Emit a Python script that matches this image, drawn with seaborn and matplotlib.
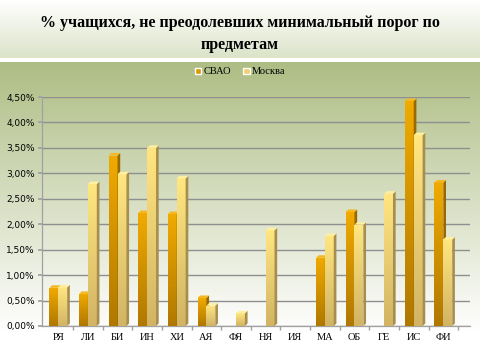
import numpy as np
import pandas as pd
import seaborn as sns
import matplotlib
matplotlib.use('Agg')
from matplotlib import pyplot as plt
from matplotlib.colors import LinearSegmentedColormap, to_rgb
from matplotlib.patches import Polygon
from matplotlib.ticker import FuncFormatter, MultipleLocator

# данные (в процентах)
subjects = ['РЯ', 'ЛИ', 'БИ', 'ИН', 'ХИ', 'АЯ', 'ФЯ', 'НЯ', 'ИЯ', 'МА', 'ОБ', 'ГЕ', 'ИС', 'ФИ']
svao = [0.75, 0.63, 3.35, 2.22, 2.20, 0.55, 0.0, 0.0, 0.0, 1.34, 2.24, 0.0, 4.42, 2.82]
moscow = [0.76, 2.79, 2.98, 3.50, 2.90, 0.40, 0.25, 1.88, 0.0, 1.77, 1.99, 2.60, 3.75, 1.70]
series = ['СВАО', 'Москва']
title = '% учащихся, не преодолевших минимальный порог по\nпредметам'

df = pd.DataFrame({
    'предмет': subjects * 2,
    'значение': svao + moscow,
    'ряд': [series[0]] * len(subjects) + [series[1]] * len(subjects),
})

sns.set_theme(style='white')
plt.rcParams['font.family'] = ['DejaVu Sans']
plt.rcParams['text.color'] = 'black'
plt.rcParams['xtick.color'] = 'black'
plt.rcParams['ytick.color'] = 'black'

fig = plt.figure(figsize=(4.8, 3.6), dpi=100)

# фон: градиент заголовка и градиент области диаграммы
bg = fig.add_axes([0, 0, 1, 1], zorder=-10)
bg.set_axis_off()
h = 360
col = np.ones((h, 3))
top = np.array(to_rgb('#ffffff'))
mid = np.array(to_rgb('#dbe3c8'))
g1 = np.array(to_rgb('#aebd84'))
g2 = np.array(to_rgb('#ffffff'))
for r in range(h):
    if r < 58:
        t = r / 58
        col[r] = top * (1 - t) + mid * t
    elif r < 62:
        col[r] = [1, 1, 1]
    else:
        t = min(1, (r - 62) / 270)
        col[r] = g1 * (1 - t) + g2 * t
bg.imshow(col[:, None, :], aspect='auto', extent=[0, 1, 0, 1])
bg.set_xlim(0, 1)
bg.set_ylim(0, 1)

ax = fig.add_axes([42 / 480, 34 / 360, 428 / 480, 229 / 360])
ax.set_facecolor('none')

palette = {'СВАО': '#d89a00', 'Москва': '#f0d070'}
sns.barplot(data=df, x='предмет', y='значение', hue='ряд', palette=palette,
            width=0.6, ax=ax, legend=False, zorder=3)

grads = {
    'СВАО': ('#f0aa00', '#b07800', '#9a6800', '#f5b820'),
    'Москва': ('#ffe680', '#d2b464', '#a88e4c', '#fff0a0'),
}
d, dy = 0.09, 0.05
for cont, name in zip(ax.containers, series):
    c_top, c_bot, c_side, c_cap = grads[name]
    cmap = LinearSegmentedColormap.from_list(name, [c_bot, c_top])
    for p in cont.patches:
        x0 = p.get_x()
        x1 = x0 + p.get_width()
        hh = p.get_height()
        p.set_edgecolor('none')
        if hh <= 0:
            continue
        im = ax.imshow(np.linspace(1, 0, 64)[:, None], cmap=cmap, aspect='auto',
                       extent=[x0, x1, 0, hh], zorder=4)
        im.set_clip_path(p)
        ax.add_patch(Polygon([(x1, 0), (x1 + d, dy), (x1 + d, hh + dy), (x1, hh)],
                             closed=True, facecolor=c_side, edgecolor='none', zorder=4))
        ax.add_patch(Polygon([(x0, hh), (x0 + d, hh + dy), (x1 + d, hh + dy), (x1, hh)],
                             closed=True, facecolor=c_cap, edgecolor='none', zorder=4))

ax.set_xlim(-0.55, 13.9)
ax.set_ylim(0, 4.5)
ax.yaxis.set_major_locator(MultipleLocator(0.5))
ax.yaxis.set_major_formatter(FuncFormatter(lambda v, pos: f'{v:.2f}%'.replace('.', ',')))
ax.yaxis.grid(True, color='#8f8f8f', linewidth=1.0, zorder=0)
ax.set_axisbelow(True)
ax.set_xlabel('')
ax.set_ylabel('')
for s in ['top', 'right']:
    ax.spines[s].set_visible(False)
for s in ['left', 'bottom']:
    ax.spines[s].set_color('#a0a0a0')
    ax.spines[s].set_linewidth(0.9)
ax.tick_params(axis='y', length=3, color='#a0a0a0', labelsize=6.5, pad=2,
               left=True, direction='out', labelcolor='black')
ax.set_xticks(range(len(subjects)))
ax.set_xticklabels(subjects, fontfamily='Liberation Serif', fontsize=7.5)
ax.set_xticks(np.arange(len(subjects)) + 0.5, minor=True)
ax.tick_params(axis='x', which='major', length=0, pad=5, labelcolor='black')
ax.tick_params(axis='x', which='minor', length=3, color='#a0a0a0', bottom=True)

fig.text(0.5, 0.905, title, ha='center', va='center', fontsize=11.5, color='black',
         fontweight='bold', fontfamily='Liberation Serif', linespacing=1.5)

handles = [plt.Rectangle((0, 0), 1, 1, facecolor=palette[s]) for s in series]
fig.legend(handles, series, loc='center', bbox_to_anchor=(0.5, 0.8), ncol=2,
           frameon=False, prop={'family': 'Liberation Serif', 'size': 7.5},
           handlelength=0.6, handleheight=0.6, handletextpad=0.2, columnspacing=1.2)

fig.savefig('out.png', dpi=100)
